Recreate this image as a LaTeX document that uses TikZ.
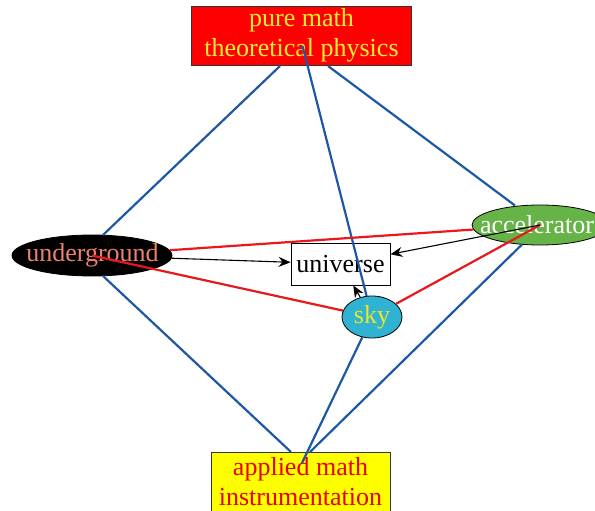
\documentclass[tikz,border=0pt]{standalone}
\usepackage{fontspec}
\setmainfont{Liberation Serif}
\usetikzlibrary{arrows.meta,shapes.geometric}
\definecolor{lineblue}{RGB}{30,88,165}
\definecolor{linered}{RGB}{232,24,28}
\definecolor{topred}{RGB}{255,0,0}
\definecolor{topyellow}{RGB}{255,238,50}
\definecolor{boxyellow}{RGB}{255,255,0}
\definecolor{boxred}{RGB}{232,0,0}
\definecolor{salmontext}{RGB}{236,130,110}
\definecolor{skyfill}{RGB}{48,178,210}
\definecolor{skytext}{RGB}{232,232,40}
\definecolor{accfill}{RGB}{102,180,72}
\tikzset{
  txt/.style={font=\fontsize{26}{30}\selectfont},
  bigbox/.style={txt, draw=black!80, line width=0.8pt, inner sep=0pt, align=center},
  oval/.style={ellipse, draw=black, line width=0.8pt, inner sep=0pt},
  bluel/.style={draw=lineblue, line width=2.2pt},
  redl/.style={draw=linered, line width=2.2pt},
  arr/.style={draw=black, line width=1.1pt, -{Stealth[length=12pt,width=10pt,inset=4pt]}},
}
\begin{document}
\begin{tikzpicture}[x=1pt,y=-1pt]
\useasboundingbox (0,0) rectangle (595,511);
% boxes
\node[bigbox, fill=topred, text=topyellow, minimum width=220pt, minimum height=59pt] (top) at (301.5,35.5) {pure math\\theoretical physics};
\node[bigbox, fill=boxyellow, text=boxred, minimum width=179pt, minimum height=60pt] (bot) at (300.5,482) {applied math\\instrumentation};
\node[txt, draw=black, line width=0.8pt, fill=white, minimum width=99pt, minimum height=42pt, inner sep=0pt] (uni) at (340.5,264) {universe};
% ellipses
\node[oval, fill=black, minimum width=160pt, minimum height=41pt] (ug) at (92,255.5) {};
\node[txt, text=salmontext] (ugt) at (92.5,255.5) {underground};
\node[oval, fill=accfill, minimum width=136pt, minimum height=40pt] (acc) at (540,225) {};
\node[txt, text=white] (acct) at (537,225) {accelerator};
\node[oval, fill=skyfill, minimum width=60pt, minimum height=42pt, txt, text=skytext] (sky) at (372,317) {\raisebox{-3pt}{sky}};
% anchor points of the blue connectors
\coordinate (tA) at (280,66);
\coordinate (tB) at (302.5,46);
\coordinate (tC) at (328,66);
\coordinate (ugT) at (103,235);
\coordinate (ugB) at (103,276);
\coordinate (accT) at (515,205.5);
\coordinate (accB) at (522,244.5);
\coordinate (bA) at (291,452);
\coordinate (bB) at (302,463);
\coordinate (bC) at (310,452);
% blue connectors
\draw[bluel] (tA) -- (ugT);
\draw[bluel] (ugB) -- (bA);
\draw[bluel] (tC) -- (accT);
\draw[bluel] (accB) -- (bC);
\draw[bluel] (tB) -- (sky);
\draw[bluel] (sky) -- (bB);
% red connectors
\draw[redl] (ug) -- (acc);
\draw[redl] (ug.center) -- (sky);
\draw[redl] (acc.center) -- (sky);
% black arrows
\draw[arr] (ug) -- (uni);
\draw[arr] (acc.center) -- (uni);
\draw[arr] (sky) -- (uni);
\end{tikzpicture}
\end{document}
